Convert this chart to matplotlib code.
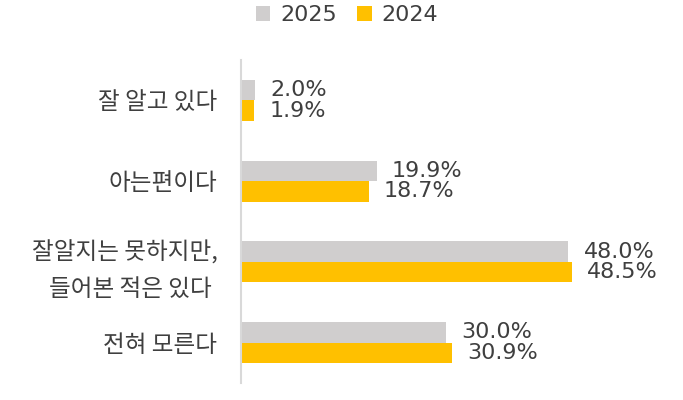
import matplotlib
matplotlib.use("Agg")
import matplotlib.pyplot as plt
from matplotlib.patches import Patch

plt.rcParams['font.family'] = ['Noto Sans CJK KR', 'DejaVu Sans']

categories = ["잘 알고 있다", "아는편이다", "잘알지는 못하지만,\n들어본 적은 있다 ", "전혀 모른다"]
series_names = ["2025", "2024"]
values_2025 = [2.0, 19.9, 48.0, 30.0]
values_2024 = [1.9, 18.7, 48.5, 30.9]
colors = ["#D0CECE", "#FFC000"]
text_color = "#3F3F3F"

fig = plt.figure(figsize=(6.83, 4.0), dpi=100)
ax = fig.add_axes([0.3529, 0.0425, 0.6471, 0.8075])

h = 0.255
ypos = list(range(len(categories)))
for i, (vals, col) in enumerate(zip([values_2025, values_2024], colors)):
    offs = -h / 2 if i == 0 else h / 2
    ys = [y + offs for y in ypos]
    ax.barh(ys, vals, height=h, color=col, edgecolor='none')
    for y, v in zip(ys, vals):
        ax.annotate(f"{v:.1f}%", xy=(v, y), xytext=(11, 0), textcoords='offset points',
                    va='center', ha='left', fontsize=16, color=text_color,
                    family='DejaVu Sans')

ax.set_ylim(3.5, -0.5)
ax.set_xlim(0, 64.8)
ax.set_yticks(ypos)
ax.set_yticklabels(categories, fontsize=17, color=text_color, linespacing=1.7)
ax.tick_params(axis='y', length=0, pad=17)
ax.set_xticks([])
for s in ['top', 'right', 'bottom']:
    ax.spines[s].set_visible(False)
ax.spines['left'].set_color('#D9D9D9')
ax.spines['left'].set_linewidth(1.5)

handles = [Patch(facecolor=c, edgecolor='none', label=n) for c, n in zip(colors, series_names)]
fig.legend(handles=handles, loc='center', bbox_to_anchor=(347 / 683, 1 - 15 / 400), ncol=2,
           frameon=False, prop={'family': 'DejaVu Sans', 'size': 16},
           handlelength=0.65, handleheight=0.65,
           handletextpad=0.45, columnspacing=0.9, labelcolor=text_color)

fig.savefig("out.png", dpi=100)
